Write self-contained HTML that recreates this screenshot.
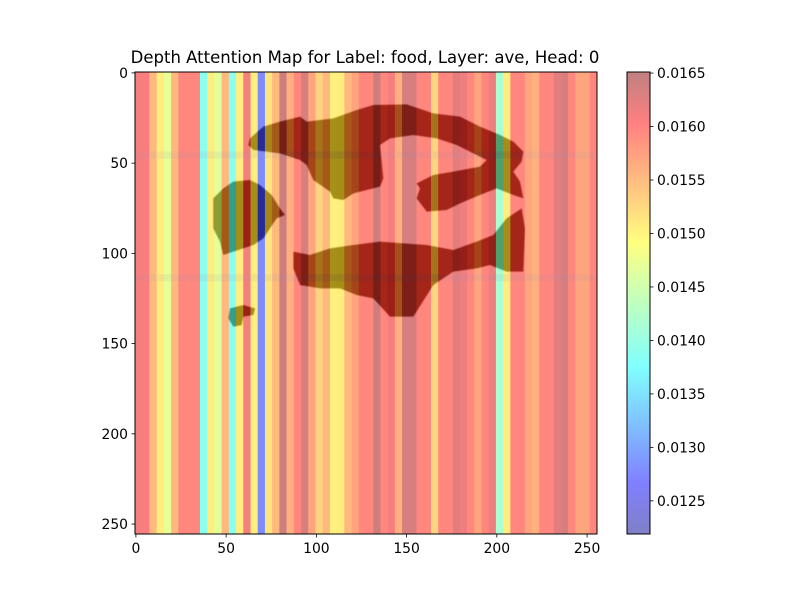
<!DOCTYPE html>
<html><head><meta charset="utf-8"><style>
body{margin:0;background:#fff;}
svg text{font-family:"DejaVu Sans","Liberation Sans",sans-serif;fill:#000;}
</style></head><body>
<svg id="chart" width="800" height="600" viewBox="0 0 800 600">
<defs>
<filter id="bl" x="-10%" y="-10%" width="120%" height="120%"><feGaussianBlur stdDeviation="1.3"/></filter>
<linearGradient id="cbgrad" x1="0" y1="1" x2="0" y2="0">
<stop offset="0" stop-color="#00008f"/><stop offset="0.11" stop-color="#0000ff"/><stop offset="0.36" stop-color="#00ffff"/><stop offset="0.5" stop-color="#80ff80"/><stop offset="0.63" stop-color="#ffff00"/><stop offset="0.89" stop-color="#ff0000"/><stop offset="1" stop-color="#800000"/>
</linearGradient>
</defs>
<rect width="800" height="600" fill="#fff"/>
<text x="365" y="63" font-size="16.5" text-anchor="middle">Depth Attention Map for Label: food, Layer: ave, Head: 0</text>
<g id="plot">
<rect x="135" y="72" width="462" height="462" fill="#fff"/>
<g transform="translate(200,95) scale(0.33333)" fill="rgb(75,60,50)" filter="url(#bl)">
<polygon points="150,130 190,95 240,80 300,65 320,80 400,70 470,45 520,30 620,28 700,55 780,65 840,95 900,120 940,140 970,170 965,200 940,230 960,260 970,310 940,300 890,280 840,300 780,325 740,345 680,350 650,310 660,280 650,265 700,240 760,230 840,215 860,195 830,180 770,150 710,130 640,120 570,130 540,150 545,200 550,250 540,275 500,285 460,295 430,315 400,310 390,290 340,255 320,210 300,195 240,175 200,170 160,165 145,150"/>
<polygon points="40,310 70,280 100,260 150,255 180,270 215,300 240,340 255,360 230,370 210,400 190,430 160,450 100,470 70,480 60,440 40,400"/>
<polygon points="280,470 330,480 390,460 460,450 540,440 610,445 680,450 760,465 830,440 880,420 920,370 965,340 975,400 970,530 920,530 870,510 830,520 760,530 700,570 640,665 570,665 520,610 470,600 420,580 360,580 300,570 280,520"/>
<polygon points="90,640 130,630 165,640 160,660 130,665 125,690 100,695 85,670"/>
</g>
<g id="cells" opacity="0.5"></g>
<rect x="135" y="72" width="462" height="462" fill="none" stroke="#000" stroke-width="1"/>
</g>
<g id="xaxis"></g>
<g id="yaxis"></g>
<g>
<rect x="627" y="72" width="23" height="462" fill="url(#cbgrad)" opacity="0.5"/>
<rect x="627" y="72" width="23" height="462" fill="none" stroke="#000" stroke-width="1"/>
<g id="cbticks"></g>
</g>
</svg>
<script>
const colValues = [0.01603,0.01600,0.01547,0.01504,0.01469,0.01547,0.01590,0.01590,0.01590,0.01392,
0.01504,0.01465,0.01547,0.01392,0.01504,0.01603,0.01504,0.01285,0.01510,0.01547,
0.01637,0.01555,0.01590,0.01630,0.01564,0.01525,0.01547,0.01500,0.01504,0.01547,
0.01564,0.01590,0.01590,0.01637,0.01590,0.01603,0.01555,0.01630,0.01630,0.01590,
0.01590,0.01525,0.01590,0.01590,0.01620,0.01610,0.01590,0.01564,0.01590,0.01610,
0.01418,0.01504,0.01590,0.01590,0.01564,0.01555,0.01590,0.01590,0.01620,0.01630,
0.01590,0.01564,0.01564,0.01590];
const bandRows = [11, 28];
const xTicks = [0,50,100,150,200,250];
const yTicks = [0,50,100,150,200,250];
const cbTicks = ["0.0125","0.0130","0.0135","0.0140","0.0145","0.0150","0.0155","0.0160","0.0165"];
const vmin = 0.01219, vmax = 0.01651;

const NS = "http://www.w3.org/2000/svg";
const X0 = 135, Y0 = 72, W = 462, H = 462, N = 256;
const sx = v => X0 + (v + 0.5) * W / N;
const sy = v => Y0 + (v + 0.5) * H / N;
const cbY = v => 534 - (v - vmin) / (vmax - vmin) * 462;
function jet(f){
  f = Math.max(0, Math.min(1, f));
  const c = x => Math.round(255 * Math.max(0, Math.min(1, x)));
  return `rgb(${c(1.5 - Math.abs(4*f - 3))},${c(1.5 - Math.abs(4*f - 2))},${c(1.5 - Math.abs(4*f - 1))})`;
}
function mk(tag, attrs, parent){
  const e = document.createElementNS(NS, tag);
  for (const k in attrs) e.setAttribute(k, attrs[k]);
  parent.appendChild(e); return e;
}
const cells = document.getElementById('cells');
const cw = W / colValues.length;
colValues.forEach((v, i) => {
  const r = mk('rect', {x: X0 + i*cw, y: Y0, width: cw + 0.3, height: H, fill: jet((v - vmin)/(vmax - vmin))}, cells);
  
  
});
bandRows.forEach(rw => {
  const r = mk('rect', {x: X0, y: Y0 + rw*4*H/N, width: W, height: 4*H/N, fill: '#402060', opacity: 0.12}, cells);
  
  
});
const xa = document.getElementById('xaxis');
xTicks.forEach(t => {
  const x = sx(t);
  mk('line', {x1: x, x2: x, y1: 534, y2: 537.5, stroke: '#000', 'stroke-width': 0.8}, xa);
  const tx = mk('text', {x: x, y: 553, 'font-size': 13.9, 'text-anchor': 'middle'}, xa);
  tx.textContent = t;
  
  
});
const ya = document.getElementById('yaxis');
yTicks.forEach(t => {
  const y = sy(t);
  mk('line', {x1: 131.5, x2: 135, y1: y, y2: y, stroke: '#000', 'stroke-width': 0.8}, ya);
  const tx = mk('text', {x: 128, y: y + 5, 'font-size': 13.9, 'text-anchor': 'end'}, ya);
  tx.textContent = t;
  
  
});
const cb = document.getElementById('cbticks');
cbTicks.forEach(t => {
  const y = cbY(parseFloat(t));
  mk('line', {x1: 650, x2: 653.5, y1: y, y2: y, stroke: '#000', 'stroke-width': 0.8}, cb);
  const tx = mk('text', {x: 657, y: y + 5, 'font-size': 13.9}, cb);
  tx.textContent = t;
  
  
});
</script>
</body></html>
